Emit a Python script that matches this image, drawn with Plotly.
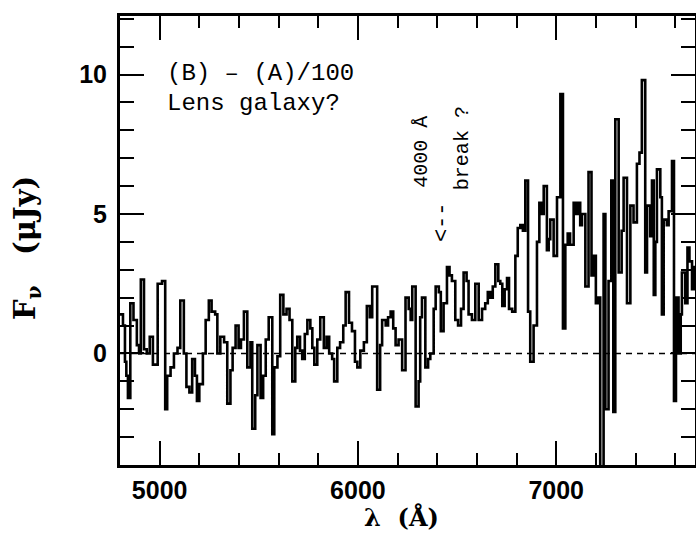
import plotly.graph_objects as go

# Step start wavelengths (Angstrom) and flux values (micro-Jansky)
wave = [
    4800, 4815, 4825, 4832, 4840, 4852, 4868, 4885, 4896, 4905, 4921, 4935, 4950, 4966, 4990,
    5012, 5028, 5038, 5055, 5072, 5090, 5104, 5122, 5135, 5150, 5164, 5178, 5188, 5200, 5218,
    5232, 5248, 5262, 5280, 5291, 5306, 5325, 5341, 5357, 5368, 5383, 5398, 5410, 5425, 5442,
    5458, 5467, 5482, 5493, 5509, 5522, 5535, 5550, 5568, 5578, 5594, 5608, 5624, 5640, 5655,
    5669, 5684, 5694, 5708, 5719, 5732, 5745, 5760, 5770, 5780, 5795, 5810, 5828, 5842, 5855,
    5870, 5880, 5896, 5910, 5926, 5938, 5955, 5970, 5985, 5997, 6012, 6030, 6045, 6060, 6072,
    6097, 6112, 6122, 6140, 6152, 6165, 6178, 6190, 6205, 6223, 6240, 6256, 6266, 6274, 6291,
    6306, 6314, 6323, 6340, 6354, 6365, 6382, 6392, 6408, 6418, 6432, 6449, 6462, 6474, 6491,
    6505, 6520, 6533, 6548, 6558, 6575, 6592, 6609, 6626, 6642, 6655, 6668, 6680, 6693, 6708,
    6718, 6728, 6740, 6752, 6762, 6778, 6794, 6806, 6819, 6832, 6844, 6858, 6869, 6886, 6903,
    6915, 6928, 6937, 6953, 6962, 6970, 6987, 7004, 7021, 7034, 7046, 7058, 7070, 7088, 7100,
    7110, 7121, 7130, 7147, 7163, 7178, 7189, 7200, 7210, 7222, 7239, 7248, 7264, 7278, 7288,
    7298, 7315, 7330, 7340, 7357, 7374, 7390, 7407, 7420, 7432, 7449, 7458, 7474, 7483, 7492,
    7500, 7508, 7525, 7533, 7542, 7558, 7567, 7584, 7594, 7604, 7617, 7628, 7634, 7651, 7662,
    7672, 7685, 7695, 7710,
]
flux = [
    1.4, 1.0, -0.3, -0.8, -1.6, 1.8, 1.2, 0.3, 0.0, 2.65, 0.15, 0.0, 0.6, -0.4, 2.5,
    2.6, -2.0, -0.8, -0.5, 0.0, 0.2, 1.9, 0.0, -1.2, -1.4, -0.2, -0.8, -1.7, -1.1, 0.0,
    1.2, 1.9, 1.5, 1.4, 0.0, 0.6, 0.4, -1.8, -0.6, 0.2, 1.0, 0.2, 0.5, 1.5, -0.5,
    0.4, -2.7, -1.5, 0.3, -1.6, -0.8, 0.5, 1.3, -2.9, -0.5, -0.1, 2.1, 1.4, 1.6, 1.2,
    -1.0, 0.2, 0.6, 0.1, -0.2, 0.7, 1.2, 0.9, 0.2, -0.4, 0.5, 1.3, 0.2, 0.6, 0.0,
    -0.2, -1.0, 0.2, 0.4, 1.0, 2.2, 1.1, 0.8, -0.3, -0.5, 0.1, 0.4, 1.7, 1.3, 2.4,
    -1.3, 0.3, 1.2, 1.0, 1.3, 1.5, 0.9, 0.3, 0.5, -0.6, 2.0, 1.6, 1.2, 2.4, -1.9,
    -1.0, 1.3, 2.0, -0.5, -0.2, 0.0, 1.6, 2.4, 2.2, 0.8, 1.8, 3.1, 2.8, 2.6, 1.2,
    1.0, 1.6, 2.9, 2.6, 1.4, 1.2, 2.5, 1.2, 1.6, 1.8, 2.2, 2.0, 2.4, 3.2, 2.6,
    2.5, 1.7, 2.3, 2.7, 1.6, 1.5, 3.5, 4.5, 4.6, 4.4, 6.2, 1.5, -0.3, 1.0, 4.0,
    5.4, 5.0, 6.0, 3.7, 4.1, 4.8, 3.5, 5.6, 9.3, 0.9, 3.9, 4.3, 3.9, 5.4, 5.0,
    5.4, 4.6, 5.0, 2.4, 6.5, 2.8, 3.5, 1.8, 2.0, -5.0, 5.0, -2.0, 2.6, 6.2, -2.1,
    8.4, 2.9, 4.4, 6.3, 1.8, 5.3, 4.7, 6.8, 7.2, 9.8, 2.9, 5.3, 4.2, 6.2, 2.1,
    4.0, 6.6, 5.6, 1.4, 4.8, 4.6, 5.1, 6.9, -1.7, 2.0, 0.0, 1.4, 2.9, 1.8, 3.8,
    3.3, 2.3, 3.1,
]
flux_steps = flux + [flux[-1]]

x_ticks = [5000, 6000, 7000]
y_ticks = [0, 5, 10]

fig = go.Figure()
fig.add_trace(go.Scatter(
    x=wave, y=flux_steps, mode="lines", line_shape="hv",
    line=dict(color="black", width=2.6), showlegend=False, hoverinfo="skip",
))

fig.add_shape(type="line", xref="paper", x0=0, x1=1, yref="y", y0=0, y1=0,
              line=dict(color="black", width=1.4, dash="6px,5px"))

mono = dict(family="Liberation Mono, Courier New, monospace", color="black")
fig.add_annotation(text="(B) – (A)/100", xref="paper", yref="paper", x=0.078, y=0.873,
                   xanchor="left", yanchor="middle", showarrow=False, font=dict(size=24, **mono))
fig.add_annotation(text="Lens galaxy?", xref="paper", yref="paper", x=0.078, y=0.805,
                   xanchor="left", yanchor="middle", showarrow=False, font=dict(size=24, **mono))
fig.add_annotation(text="4000 Å", xref="paper", yref="paper", x=0.523, y=0.697, textangle=-90,
                   xanchor="center", yanchor="middle", showarrow=False, font=dict(size=20, **mono))
fig.add_annotation(text="break ?", xref="paper", yref="paper", x=0.595, y=0.706, textangle=-90,
                   xanchor="center", yanchor="middle", showarrow=False, font=dict(size=20, **mono))
fig.add_annotation(text="<--", xref="paper", yref="paper", x=0.560, y=0.541, textangle=-90,
                   xanchor="center", yanchor="middle", showarrow=False, font=dict(size=22, **mono))

serif = dict(family="DejaVu Serif, Liberation Serif, serif", color="black", weight="bold")
fig.add_annotation(text="F<sub>ν</sub>   (μJy)", xref="paper", yref="paper", x=-0.162, y=0.483,
                   textangle=-90, xanchor="center", yanchor="middle", showarrow=False,
                   font=dict(size=29, **serif))
fig.add_annotation(text="λ  (Å)", xref="paper", yref="paper", x=0.490, y=-0.118,
                   xanchor="center", yanchor="middle", showarrow=False,
                   font=dict(size=24, **serif))

tickfont = dict(family="Liberation Sans, Arial, sans-serif", size=25, color="black", weight="bold")
fig.update_xaxes(
    range=[4800, 7700], tickvals=x_ticks, ticktext=[str(v) for v in x_ticks],
    ticks="inside", ticklen=24, tickwidth=2, tickcolor="black",
    minor=dict(dtick=200, tick0=4800, ticks="inside", ticklen=12, tickwidth=2, tickcolor="black"),
    showline=True, linecolor="black", linewidth=3, mirror="ticks",
    showgrid=False, zeroline=False, tickfont=tickfont, ticklabelstandoff=1,
    automargin=False,
)
fig.update_yaxes(
    range=[-4, 12.1], tickvals=y_ticks, ticktext=[str(v) for v in y_ticks],
    ticks="inside", ticklen=24, tickwidth=2, tickcolor="black",
    minor=dict(dtick=1, tick0=0, ticks="inside", ticklen=14, tickwidth=2, tickcolor="black"),
    showline=True, linecolor="black", linewidth=3, mirror="ticks",
    showgrid=False, zeroline=False, tickfont=tickfont, ticklabelstandoff=5,
    automargin=False,
)
fig.update_layout(
    width=696, height=534,
    margin=dict(l=120, r=1, t=16, b=69, autoexpand=False),
    paper_bgcolor="white", plot_bgcolor="white",
)
fig.write_html("out.html", config={"displayModeBar": False},
               post_script="document.body.style.margin='0px';")
